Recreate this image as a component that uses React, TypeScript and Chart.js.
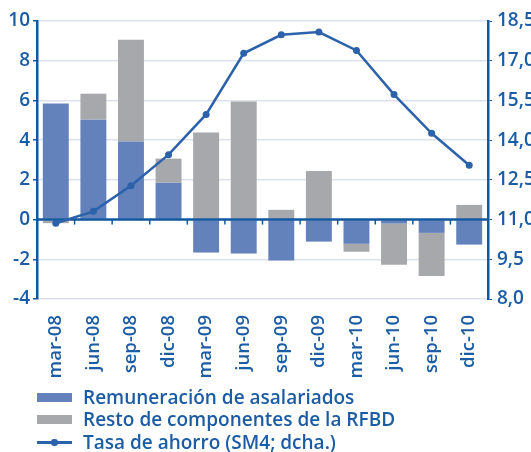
import React, { useEffect, useRef } from "react";
import { Chart, registerables } from "chart.js";

Chart.register(...registerables);

const categories = ["mar-08", "jun-08", "sep-08", "dic-08", "mar-09", "jun-09", "sep-09", "dic-09", "mar-10", "jun-10", "sep-10", "dic-10"];
const remuneracion = [5.85, 5.03, 3.93, 1.86, -1.66, -1.71, -2.06, -1.11, -1.22, -0.2, -0.67, -1.26];
const resto = [-0.18, 1.31, 5.13, 1.21, 4.38, 5.94, 0.49, 2.45, -0.4, -2.08, -2.17, 0.74];
const tasaAhorro = [10.86, 11.31, 12.28, 13.45, 14.97, 17.28, 17.98, 18.08, 17.39, 15.72, 14.26, 13.05];

const legendLabels = ["Remuneración de asalariados", "Resto de componentes de la RFBD", "Tasa de ahorro (SM4; dcha.)"];

const BLUE_BAR = "#6381bb";
const GRAY_BAR = "#a7a8ac";
const LINE = "#2c62aa";
const AXIS = "#11599f";
const TEXT = "#1b5ca4";
const GRID = "#dde1ee";
const FONT = "'Open Sans', sans-serif";
const FONT_WEIGHT = 600;

const CANVAS_W = 560;
const CANVAS_H = 385;
const AREA_LEFT = 37;
const AREA_RIGHT = 488;
const AREA_TOP = 21;
const AREA_BOTTOM = 299;

const zeroLinePlugin = {
  id: "zeroLine",
  beforeDatasetDraw(chart: any, args: any) {
    if (args.index !== 2) return;
    const { ctx, chartArea, scales } = chart;
    const y0 = scales.y.getPixelForValue(0);
    ctx.save();
    ctx.strokeStyle = AXIS;
    ctx.lineWidth = 2.5;
    ctx.beginPath();
    ctx.moveTo(chartArea.left, y0);
    ctx.lineTo(chartArea.right, y0);
    ctx.stroke();
    ctx.lineWidth = 1.5;
    for (let i = 1; i < categories.length; i++) {
      const x = (scales.x.getPixelForValue(i - 1) + scales.x.getPixelForValue(i)) / 2;
      ctx.beginPath();
      ctx.moveTo(x, y0);
      ctx.lineTo(x, y0 + 5);
      ctx.stroke();
    }
    ctx.restore();
  },
};

export default function App() {
  const canvasRef = useRef<HTMLCanvasElement | null>(null);

  useEffect(() => {
    if (!canvasRef.current) return;
    const chart = new Chart(canvasRef.current, {
      type: "bar",
      data: {
        labels: categories,
        datasets: [
          {
            type: "bar",
            label: legendLabels[0],
            data: remuneracion,
            backgroundColor: BLUE_BAR,
            borderWidth: 0,
            yAxisID: "y",
            stack: "s",
            order: 1,
            categoryPercentage: 1,
            barPercentage: 0.69,
          },
          {
            type: "bar",
            label: legendLabels[1],
            data: resto,
            backgroundColor: GRAY_BAR,
            borderWidth: 0,
            yAxisID: "y",
            stack: "s",
            order: 1,
            categoryPercentage: 1,
            barPercentage: 0.69,
          },
          {
            type: "line",
            label: legendLabels[2],
            data: tasaAhorro,
            borderColor: LINE,
            backgroundColor: LINE,
            borderWidth: 2.5,
            pointRadius: 3.5,
            pointBackgroundColor: LINE,
            pointBorderWidth: 0,
            yAxisID: "y1",
            order: 0,
            tension: 0,
          } as any,
        ],
      },
      options: {
        animation: false,
        responsive: false,
        maintainAspectRatio: false,
        layout: { padding: { top: AREA_TOP, left: 0, right: 0, bottom: 0 } },
        plugins: {
          legend: { display: false },
          tooltip: { enabled: false },
        },
        scales: {
          x: {
            stacked: true,
            grid: { display: false },
            border: { display: false },
            ticks: {
              autoSkip: false,
              minRotation: 90,
              maxRotation: 90,
              padding: 8,
              color: TEXT,
              font: { family: FONT, size: 18.5, weight: FONT_WEIGHT as any },
            },
            afterFit(scale: any) {
              scale.height = CANVAS_H - AREA_BOTTOM;
            },
          },
          y: {
            stacked: true,
            position: "left",
            min: -4,
            max: 10,
            ticks: {
              stepSize: 2,
              padding: 3,
              color: TEXT,
              font: { family: FONT, size: 19, weight: FONT_WEIGHT as any },
            },
            grid: {
              color: GRID,
              lineWidth: 1.5,
              drawTicks: true,
              tickLength: 4,
              tickColor: AXIS,
            },
            border: { display: true, color: AXIS, width: 2.5 },
            afterFit(scale: any) {
              scale.width = AREA_LEFT;
            },
          },
          y1: {
            position: "right",
            min: 8,
            max: 18.5,
            ticks: {
              stepSize: 1.5,
              padding: 5,
              color: TEXT,
              font: { family: FONT, size: 19, weight: FONT_WEIGHT as any },
              callback: (v: any) => Number(v).toFixed(1).replace(".", ","),
            },
            grid: {
              drawOnChartArea: false,
              drawTicks: true,
              tickLength: 4,
              tickColor: AXIS,
            },
            border: { display: true, color: AXIS, width: 2.5 },
            afterFit(scale: any) {
              scale.width = CANVAS_W - AREA_RIGHT;
            },
          },
        },
      },
      plugins: [zeroLinePlugin],
    });
    return () => chart.destroy();
  }, []);

  const rowStyle: React.CSSProperties = {
    position: "absolute",
    left: 37,
    display: "flex",
    alignItems: "center",
    height: 22,
    color: TEXT,
    fontFamily: FONT,
    fontWeight: FONT_WEIGHT,
    fontSize: 19,
    whiteSpace: "nowrap",
  };
  const swatch = (bg: string): React.CSSProperties => ({
    width: 35,
    height: 9,
    background: bg,
    marginRight: 11,
    flex: "none",
  });

  return (
    <div style={{ position: "fixed", left: 0, top: 0, width: 531, height: 452, overflow: "hidden", background: "#fff" }}>
      <canvas ref={canvasRef} width={CANVAS_W} height={CANVAS_H} style={{ position: "absolute", left: 0, top: 0, width: CANVAS_W, height: CANVAS_H }} />
      <div style={{ ...rowStyle, top: 386 }}>
        <div style={swatch(BLUE_BAR)} />
        <span>{legendLabels[0]}</span>
      </div>
      <div style={{ ...rowStyle, top: 408 }}>
        <div style={swatch(GRAY_BAR)} />
        <span>{legendLabels[1]}</span>
      </div>
      <div style={{ ...rowStyle, top: 431 }}>
        <div style={{ position: "relative", width: 35, height: 9, marginRight: 11, flex: "none" }}>
          <div style={{ position: "absolute", left: 0, right: 0, top: 3.5, height: 2.5, background: LINE }} />
          <div style={{ position: "absolute", left: 14, top: 1.5, width: 6.5, height: 6.5, borderRadius: "50%", background: LINE }} />
        </div>
        <span>{legendLabels[2]}</span>
      </div>
    </div>
  );
}
